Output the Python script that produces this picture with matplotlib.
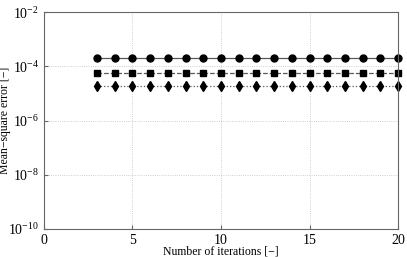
import matplotlib
matplotlib.use('Agg')
import matplotlib.pyplot as plt

plt.rcParams['font.family'] = ['Liberation Serif', 'DejaVu Serif']
plt.rcParams['mathtext.fontset'] = 'stix'

iterations = list(range(3, 21))
mse_circle = [2.0e-4] * len(iterations)
mse_square = [5.6e-5] * len(iterations)
mse_diamond = [1.9e-5] * len(iterations)

fig = plt.figure(figsize=(4.07, 2.57), dpi=100)
ax = fig.add_axes([0.108, 0.109, 0.870, 0.844])

ax.semilogy(iterations, mse_circle, '-', color='0.35', lw=0.9,
            marker='o', ms=5, mfc='k', mec='k', clip_on=False)
ax.semilogy(iterations, mse_square, '--', color='0.35', lw=0.9,
            marker='s', ms=4.5, mfc='k', mec='k', clip_on=False)
ax.semilogy(iterations, mse_diamond, ':', color='0.35', lw=0.9,
            marker='d', ms=5, mfc='k', mec='k', clip_on=False)

ax.set_xlim(0, 20)
ax.set_ylim(1e-10, 1e-2)
ax.set_yticks([1e-10, 1e-8, 1e-6, 1e-4, 1e-2])
ax.minorticks_off()
ax.set_xticks([0, 5, 10, 15, 20])
ax.tick_params(direction='in', length=3, labelsize=10, color='0.4')
ax.grid(True, linestyle=':', color='0.75', lw=0.6)
for s in ax.spines.values():
    s.set_color('0.4')
    s.set_linewidth(0.8)

ax.set_xlabel('Number of iterations [\u2212]', fontsize=8.5)
ax.set_ylabel('Mean\u2212square error [\u2212]', fontsize=8.5)
ax.xaxis.set_label_coords(0.5, -0.075)
ax.yaxis.set_label_coords(-0.092, 0.5)

fig.savefig('out.png', dpi=100)
